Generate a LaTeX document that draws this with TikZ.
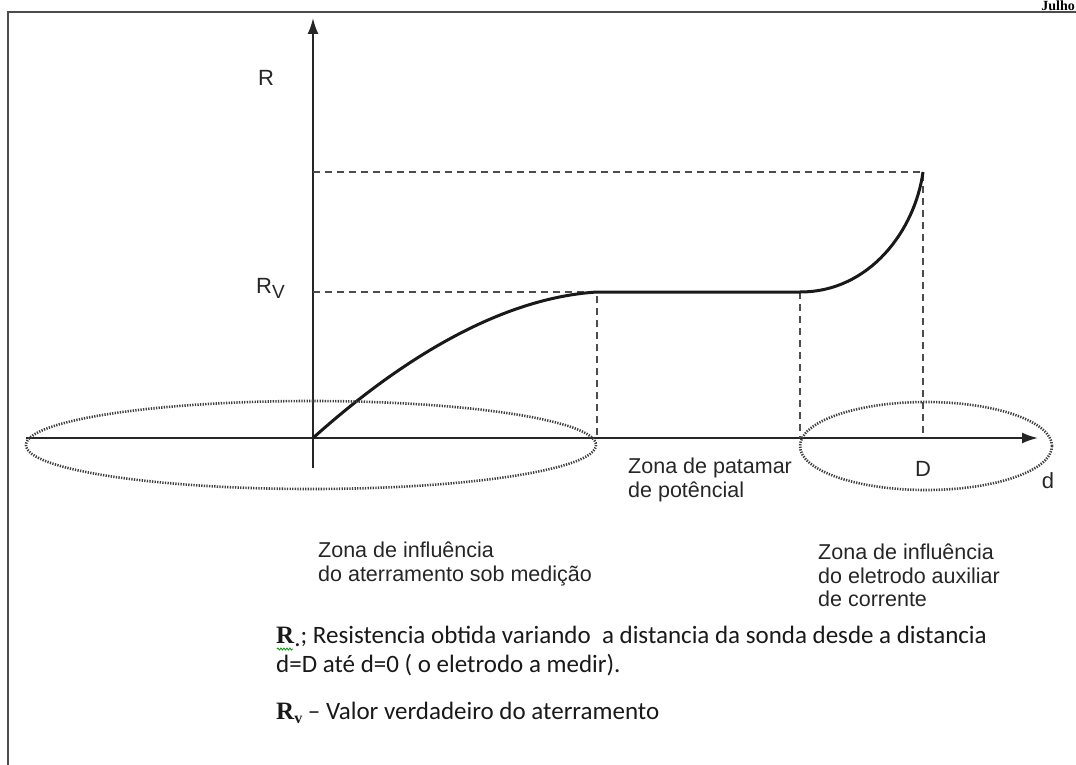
\documentclass[tikz,border=0pt]{standalone}
\usepackage{fontspec}
\setmainfont{Liberation Sans}
\newfontfamily\calfont{Carlito}
\newfontfamily\serfont{Liberation Serif}
\usetikzlibrary{arrows.meta,decorations.pathmorphing}
\begin{document}
\begin{tikzpicture}[x=1pt,y=-1pt,
  axis/.style={line width=2pt,draw=black!85,-{Latex[length=16pt,width=11pt]}},
  guide/.style={line width=1.6pt,draw=black!70,dash pattern=on 7pt off 5pt},
  curve/.style={line width=3pt,draw=black!90},
  zone/.style={line width=2.6pt,draw=black!75,dash pattern=on 1.3pt off 1.3pt},
  lbl/.style={font=\fontsize{22}{24}\selectfont,text=black!85,inner sep=0pt},
  zlbl/.style={font=\fontsize{21.5}{23.5}\selectfont,text=black!85,align=left,anchor=north west,inner sep=0pt},
  note/.style={font=\calfont\fontsize{25}{29}\selectfont,text=black!90,anchor=west,inner sep=0pt}]
\useasboundingbox (0,0) rectangle (1076,765);
% frame
\draw[line width=2pt,draw=black!70] (1076,12) -- (8,12) -- (8,765);
\node[font=\serfont\bfseries\fontsize{14}{14}\selectfont,anchor=base east,inner sep=0pt] (julho) at (1075,10.5) {Julho};
% axes
\coordinate (O) at (313,438);
\coordinate (ybot) at (313,468);
\coordinate (ytop) at (313,18);
\coordinate (xleft) at (26,438);
\coordinate (xright) at (1038,438);
\draw[axis] (ybot) -- (ytop);
\draw[axis] (xleft) -- (xright);
% key points
\coordinate (A) at (597,292);
\coordinate (B) at (800,292);
\coordinate (C) at (923,172);
\coordinate (Ay) at (313,292);
\coordinate (Cy) at (313,172);
\coordinate (Ax) at (597,438);
\coordinate (Bx) at (800,438);
\coordinate (Cx) at (923,438);
% guides
\draw[guide] (Cy) -- (C) -- (Cx);
\draw[guide] (Ay) -- (A) -- (Ax);
\draw[guide] (B) -- (Bx);
% curve
\draw[curve] (O) .. controls (400,360) and (500,298) .. (A) -- (B) .. controls (870,292) and (915,230) .. (C);
% zones
\draw[zone] (311,445) ellipse [x radius=285, y radius=44];
\draw[zone] (926,446) ellipse [x radius=126, y radius=44];
% labels
\node[lbl] (R) at (266,78) {R};
\node[lbl,anchor=east] (Rv) at (285,288) {R\raisebox{-5pt}{\fontsize{19}{19}\selectfont V}};
\node[lbl] (D) at (923,469) {D};
\node[lbl] (d) at (1048,481) {d};
\node[zlbl] (z1) at (318,542) {Zona de influência\\do aterramento sob medição};
\node[zlbl] (z2) at (628,458) {Zona de patamar\\de potêncial};
\node[zlbl] (z3) at (818,544) {Zona de influência\\do eletrodo auxiliar\\de corrente};
% notes
\node[note] (n1) at (276,636) {{\serfont\bfseries R}\raisebox{-3pt}{.};~Resistencia obtida variando~ a distancia da sonda desde a distancia};
\draw[green!60!black,line width=0.8pt,decorate,decoration={snake,amplitude=1pt,segment length=3pt}] (277,649) -- (293,649);
\node[note] (n2) at (276,665) {d=D até d=0 ( o eletrodo a medir).};
\node[note] (n3) at (276,713) {{\serfont\bfseries R\raisebox{-4pt}{\fontsize{16}{16}\selectfont v}}~– Valor verdadeiro do aterramento};
\end{tikzpicture}
\end{document}
